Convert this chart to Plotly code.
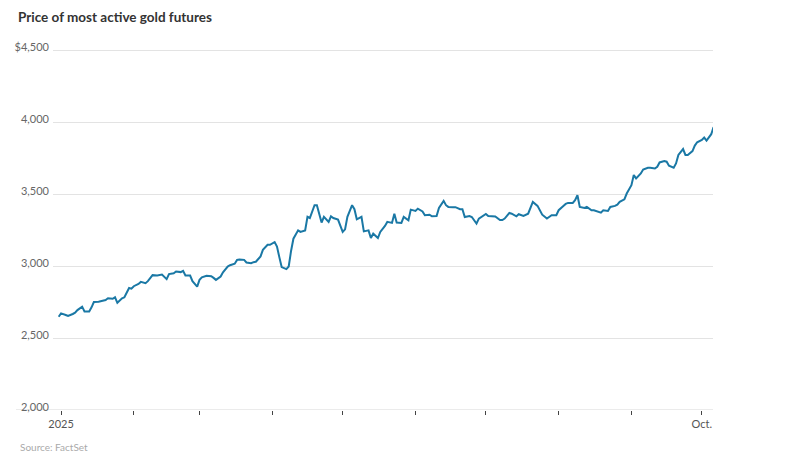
import pandas as pd
import plotly.graph_objects as go

# Days since 2025-01-01 and most-active gold futures settle price ($/oz)
day_offsets = [
    -1, 0, 2, 3, 5, 6, 7, 9, 10, 12, 13, 14, 16, 17, 19, 20, 22, 23, 24, 26, 27, 29, 30, 31,
    33, 34, 36, 37, 39, 41, 42, 43, 45, 46, 48, 49, 51, 52, 53, 55, 56, 58, 59, 60, 62, 64,
    65, 66, 68, 69, 71, 72, 74, 75, 76, 78, 79, 81, 82, 83, 85, 86, 88, 89, 91, 92, 93, 94,
    96, 97, 98, 99, 101, 102, 104, 105, 106, 107, 108, 109, 111, 112, 114, 115, 116, 118,
    120, 121, 122, 124, 125, 126, 128, 129, 131, 132, 133, 135, 136, 138, 139, 141, 142,
    143, 145, 146, 148, 149, 151, 152, 154, 155, 157, 158, 160, 161, 163, 164, 165, 167,
    168, 170, 171, 172, 174, 175, 177, 178, 180, 181, 182, 184, 185, 187, 188, 189, 191,
    192, 194, 195, 197, 199, 200, 201, 203, 204, 205, 207, 208, 209, 211, 212, 214, 215,
    216, 218, 219, 220, 221, 223, 224, 226, 227, 228, 230, 231, 233, 234, 236, 237, 238,
    240, 241, 243, 244, 245, 247, 248, 250, 251, 253, 254, 255, 257, 258, 259, 261, 262,
    263, 265, 266, 267, 269, 270, 271, 273, 274, 275, 277, 278,
]
prices = [
    2648, 2671, 2660, 2653, 2667, 2676, 2694, 2718, 2685, 2685, 2713, 2750, 2752, 2755, 2764,
    2776, 2773, 2783, 2745, 2776, 2783, 2848, 2843, 2860, 2876, 2890, 2881, 2895, 2937, 2934,
    2939, 2941, 2909, 2944, 2950, 2962, 2958, 2967, 2934, 2934, 2895, 2857, 2904, 2922, 2932,
    2930, 2918, 2904, 2927, 2957, 2997, 3006, 3016, 3043, 3046, 3043, 3025, 3020, 3027, 3030,
    3067, 3113, 3148, 3148, 3167, 3136, 3062, 2993, 2979, 2997, 3105, 3190, 3248, 3237, 3248,
    3342, 3334, 3376, 3423, 3423, 3302, 3342, 3307, 3346, 3334, 3323, 3237, 3255, 3342, 3423,
    3395, 3325, 3342, 3241, 3248, 3195, 3225, 3195, 3237, 3279, 3307, 3300, 3364, 3302, 3300,
    3342, 3318, 3392, 3383, 3399, 3380, 3353, 3357, 3346, 3348, 3404, 3453, 3423, 3411, 3409,
    3409, 3395, 3395, 3341, 3348, 3341, 3295, 3330, 3353, 3362, 3348, 3344, 3344, 3320, 3320,
    3330, 3369, 3364, 3346, 3360, 3348, 3364, 3411, 3446, 3418, 3388, 3357, 3330, 3341, 3353,
    3353, 3388, 3418, 3432, 3439, 3439, 3457, 3492, 3411, 3404, 3411, 3388, 3388, 3383, 3371,
    3388, 3383, 3411, 3418, 3427, 3446, 3464, 3504, 3562, 3632, 3609, 3643, 3671, 3683, 3683,
    3678, 3690, 3720, 3730, 3725, 3697, 3683, 3713, 3772, 3813, 3772, 3772, 3799, 3837, 3860,
    3876, 3893, 3872, 3916, 3965,
]

y_tick_values = [2000, 2500, 3000, 3500, 4000, 4500]
y_tick_labels = ["2,000", "2,500", "3,000", "3,500", "4,000", "$4,500"]
x_tick_dates = ["2025-01-01", "2025-02-01", "2025-03-01", "2025-04-01", "2025-05-01",
                "2025-06-01", "2025-07-01", "2025-08-01", "2025-09-01", "2025-10-01"]
x_tick_labels = ["2025", "", "", "", "", "", "", "", "", "Oct."]

dates = pd.Timestamp("2025-01-01") + pd.to_timedelta(day_offsets, unit="D")

# the page body has an 8px margin, so the figure is laid out 8px smaller / shifted
OFF = 8
W, H = 792 - OFF, 462 - OFF
L, R, T, B = 53 - OFF, 79, 39.8, 51.5
PW = W - L - R
PH = H - T - B

fig = go.Figure()
fig.add_trace(go.Scatter(
    x=dates, y=prices, mode="lines",
    line=dict(color="#1a78a5", width=2),
    hoverinfo="skip", showlegend=False,
))

fig.update_layout(
    width=W, height=H,
    margin=dict(l=L, r=R, t=T, b=B, autoexpand=False),
    paper_bgcolor="white", plot_bgcolor="white",
    font=dict(family="Lato, 'Open Sans', sans-serif", color="#666", size=11),
    showlegend=False,
    title=dict(
        text="<b>Price of most active gold futures</b>",
        font=dict(family="Lato, sans-serif", size=13.5, color="#333"),
        x=(18 - OFF) / W, xref="container", xanchor="left",
        y=1 - (17 - OFF) / H, yref="container", yanchor="middle",
    ),
)

fig.update_yaxes(
    range=[2000, 4515],
    tickvals=y_tick_values, ticktext=y_tick_labels,
    showgrid=True, gridcolor="#e3e3e3", gridwidth=1,
    zeroline=False, showline=False, ticks="",
    ticklabelstandoff=3, ticklabelshift=-3,
    tickfont=dict(size=11, color="#666"),
    fixedrange=True,
)
fig.update_xaxes(
    type="date",
    range=["2024-12-28 14:00", "2025-10-05 18:00"],
    tickvals=x_tick_dates, ticktext=x_tick_labels,
    showgrid=False, zeroline=False, showline=False,
    ticks="outside", ticklen=4, tickwidth=1, tickcolor="#444",
    tickfont=dict(size=11, color="#555"),
    fixedrange=True,
)

# baseline under the axis, extending below the lowest y label
fig.add_shape(
    type="line", xref="paper", yref="y",
    x0=(16 - 53) / PW, x1=1, y0=2000, y1=2000,
    line=dict(color="#d6d6d6", width=1), layer="below",
)

fig.add_annotation(
    text="Source: FactSet", xref="paper", yref="paper",
    x=(18 - 53) / PW, y=-(448 - (462 - B)) / PH,
    xanchor="left", yanchor="middle", showarrow=False,
    font=dict(size=10, color="#aaa"),
)

fig.write_html("out.html")
